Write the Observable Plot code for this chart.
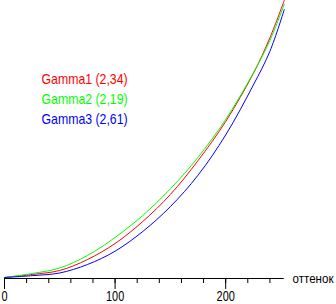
<!DOCTYPE html>
<html>
<head>
<meta charset="utf-8">
<script src="https://cdn.jsdelivr.net/npm/d3@7"></script>
<script src="https://cdn.jsdelivr.net/npm/@observablehq/plot@0.6"></script>
<style>
  html, body { margin: 0; padding: 0; background: #fff; }
  svg { display: block; }
</style>
</head>
<body>
<div id="chart"></div>
<script>
// input level (0..255) and output brightness readings (0..255)
const levels = [0, 25, 50, 75, 100, 125, 150, 175, 200, 225, 240, 253];
const gamma1 = [0, 2.8, 6.5, 16.6, 31.4, 51.7, 76.7, 108, 144.1, 188.5, 221.5, 256];
const gamma2 = [0, 3.7, 8.8, 20.3, 37, 57.3, 81.9, 111, 146, 189, 219, 252.5];
const gamma3 = [0, 1.7, 4.2, 12, 24.3, 42.5, 65.5, 94.5, 131.7, 177.8, 209, 247.6];

const seriesNames = ["Gamma1 (2,34)", "Gamma2 (2,19)", "Gamma3 (2,61)"];
const seriesColors = ["#ff0000", "#00ff00", "#0000ff"];
const majorTicks = [0, 100, 200];
const minorTicks = d3.range(0, 241, 20);
const axisLabel = "оттенок";

const seriesValues = [gamma1, gamma2, gamma3];
const rows = seriesValues.flatMap((vals, s) =>
  levels.map((x, i) => ({ series: seriesNames[s], x, y: vals[i] }))
);

const font = "'Liberation Sans', Arial, sans-serif";

const chart = Plot.plot({
  width: 336,
  height: 304,
  marginLeft: 4,
  marginRight: 50,
  marginTop: 1,
  marginBottom: 26,
  style: { fontFamily: font, background: "#fff", color: "#000" },
  x: { domain: [0, 255] },
  y: { domain: [0, 255], range: [277, 1], axis: null },
  color: { domain: seriesNames, range: seriesColors },
  marks: [
    Plot.ruleY([0], { x1: 0, x2: 253, dy: 1, stroke: "#000" }),
    Plot.axisX({ ticks: minorTicks, tickSize: 5, fill: "none", tickFormat: () => "", label: null, stroke: "#000" }),
    Plot.axisX({ ticks: majorTicks, tickSize: 11, tickPadding: 2, fontSize: 14, label: null, stroke: "#000", fill: "#000", className: "ticklabels" }),
    Plot.text([axisLabel], { frameAnchor: "bottom-right", textAnchor: "start", lineAnchor: "middle", dx: 6, fontSize: 12.5, fill: "#000", className: "axislabel" }),
    Plot.line(rows, { x: "x", y: "y", z: "series", stroke: "series", strokeWidth: 1, curve: "catmull-rom" }),
    ...seriesNames.map((name, i) =>
      Plot.text([name], { frameAnchor: "top-left", textAnchor: "start", lineAnchor: "middle", dx: 37, dy: 78 + i * 20, fontSize: 15, fill: seriesColors[i], className: "legendtext" })
    )
  ]
});

document.getElementById("chart").appendChild(chart);

// condense the glyphs to match the narrow font of the original
function condense(selector, target) {
  chart.querySelectorAll(selector + " text").forEach(t => {
    const len = t.getComputedTextLength();
    if (len > 0) {
      const newLen = typeof target === "function" ? target(len) : Math.min(target, len);
      t.setAttribute("textLength", newLen.toFixed(1));
      t.setAttribute("lengthAdjust", "spacingAndGlyphs");
    }
  });
}
condense(".legendtext", len => len * 0.82);
condense(".axislabel", 41);
condense(".ticklabels", len => len * 0.78);
</script>
</body>
</html>
